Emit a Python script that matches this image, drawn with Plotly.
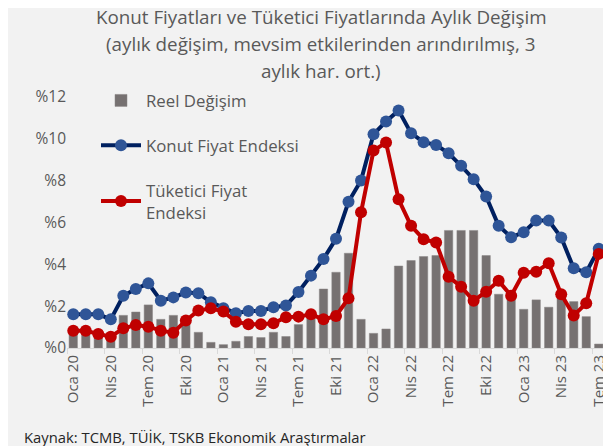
import plotly.graph_objects as go

months_tr = ["Oca", "Şub", "Mar", "Nis", "May", "Haz", "Tem", "Ağu", "Eyl", "Eki", "Kas", "Ara"]
categories = []
for yr in [20, 21, 22, 23]:
    for m in months_tr:
        categories.append(f"{m} {yr}")
categories = categories[:43]  # Oca 20 .. Tem 23

reel_degisim = [0.78, 0.78, 0.65, 0.48, 1.56, 1.72, 2.06, 1.37, 1.56, 1.20, 0.75, 0.27,
                0.16, 0.32, 0.55, 0.50, 0.75, 0.55, 1.12, 1.60, 2.82, 3.62, 4.53, 1.37,
                0.70, 0.91, 3.92, 4.18, 4.37, 4.42, 5.62, 5.62, 5.62, 4.42, 2.57, 2.46,
                1.85, 2.30, 1.95, 2.50, 2.22, 1.50, 0.19]

konut_fiyat = [1.61, 1.61, 1.61, 1.37, 2.50, 2.82, 3.09, 2.26, 2.42, 2.65, 2.62, 2.19,
               1.90, 1.66, 1.77, 1.77, 1.95, 2.03, 2.68, 3.46, 4.26, 5.22, 6.99, 8.01,
               10.22, 10.83, 11.36, 10.27, 9.84, 9.71, 9.31, 8.71, 8.07, 7.24, 5.84, 5.30,
               5.53, 6.09, 6.09, 5.28, 3.81, 3.62, 4.74]

tufe = [0.83, 0.83, 0.67, 0.54, 0.94, 1.10, 1.02, 0.83, 0.73, 1.31, 1.79, 1.90,
        1.74, 1.26, 1.13, 1.13, 1.18, 1.47, 1.50, 1.61, 1.37, 1.53, 2.38, 6.49,
        9.44, 9.82, 7.11, 5.84, 5.20, 5.04, 3.41, 2.93, 2.26, 2.69, 3.21, 2.50,
        3.60, 3.65, 4.05, 2.57, 1.55, 2.14, 4.50]

tick_vals = categories[::3]
tick_text = categories[::3]

FONT = "Open Sans"
GRAY = "#595959"

fig = go.Figure()
fig.add_trace(go.Bar(
    x=categories, y=reel_degisim, name="Reel Değişim",
    marker=dict(color="#767171", line=dict(color="#8a8686", width=0.5)),
    legendgroup="a",
))
fig.add_trace(go.Scatter(
    x=categories, y=konut_fiyat, name="Konut Fiyat Endeksi", mode="lines+markers",
    line=dict(color="#002060", width=4),
    marker=dict(color="#2F5597", size=12, line=dict(width=0)),
    legendgroup="b",
))
fig.add_trace(go.Scatter(
    x=categories, y=tufe, name="Tüketici Fiyat<br>Endeksi", mode="lines+markers",
    line=dict(color="#C00000", width=4),
    marker=dict(color="#C00000", size=12, line=dict(width=0)),
    legendgroup="c",
))

# page body has an 8px margin: figure is offset by 8px on screen
OFF = 8
W, H = 611 - OFF, 446 - OFF
L, R, T, B = 67 - OFF, 6, 97 - OFF, 98
pw = W - L - R
ph = H - T - B

def px_x(x):
    return (x - OFF - L) / pw

def px_y(y):
    return (H - B - (y - OFF)) / ph

title_lines = [
    ("Konut Fiyatları ve Tüketici Fiyatlarında Aylık Değişim", 17),
    ("(aylık değişim, mevsim etkilerinden arındırılmış, 3", 44),
    ("aylık har. ort.)", 71),
]
annotations = []
for txt, yp in title_lines:
    annotations.append(dict(
        text=txt, xref="paper", yref="paper", x=px_x(321), y=px_y(yp),
        xanchor="center", yanchor="middle", showarrow=False,
        font=dict(family=FONT, size=18.8, color=GRAY),
    ))
annotations.append(dict(
    text="Kaynak: TCMB, TÜİK, TSKB Ekonomik Araştırmalar", xref="paper", yref="paper",
    x=px_x(22), y=px_y(437), xanchor="left", yanchor="middle", showarrow=False,
    font=dict(family=FONT, size=14.8, color="#262626"),
))

fig.update_layout(
    width=W, height=H,
    margin=dict(l=L, r=R, t=T, b=B, pad=0),
    paper_bgcolor="#F2F2F2", plot_bgcolor="#F2F2F2",
    font=dict(family=FONT, color=GRAY),
    bargap=0.33,
    showlegend=True,
    legend=dict(
        x=px_x(96), y=px_y(83), xanchor="left", yanchor="top",
        bgcolor="rgba(0,0,0,0)", font=dict(family=FONT, size=16.8, color=GRAY),
        tracegroupgap=20, traceorder="grouped", itemwidth=40,
    ),
    annotations=annotations,
    xaxis=dict(
        type="category", tickmode="array", tickvals=tick_vals, ticktext=tick_text,
        tickangle=-90, tickson="boundaries", ticks="outside", ticklen=5,
        tickcolor="#D9D9D9", showline=True, linecolor="#D9D9D9", linewidth=1,
        showgrid=False, tickfont=dict(family=FONT, size=15, color=GRAY),
        range=[-0.5, 42.5], automargin=False,
    ),
    yaxis=dict(
        range=[0, 12], dtick=2, tickprefix="%", showgrid=False, zeroline=False,
        showline=False, tickfont=dict(family=FONT, size=15.5, color=GRAY),
        automargin=False,
    ),
)

fig.write_html("out.html")
